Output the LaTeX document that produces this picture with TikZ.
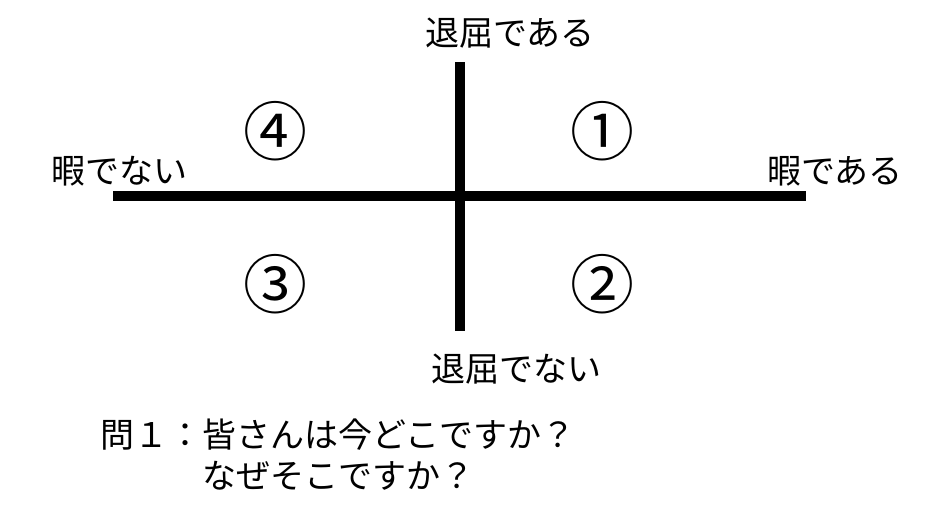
\documentclass[tikz,border=0pt]{standalone}
\usepackage{fontspec}
\setmainfont{Noto Sans CJK JP}
\usetikzlibrary{positioning}

\begin{document}
\begin{tikzpicture}[
  x=0.75pt, y=-0.75pt,
  axis/.style={line width=7.5pt, line cap=butt},
  label/.style={inner sep=0pt, anchor=base west, font=\fontsize{25.5pt}{30pt}\selectfont},
  quad/.style={inner sep=0pt, font=\fontsize{48pt}{56pt}\selectfont},
  question/.style={inner sep=0pt, anchor=north west, align=left, font=\fontsize{25.5pt}{30.5pt}\selectfont}
]
\useasboundingbox (0,0) rectangle (951,525);

% axes
\coordinate (left) at (113,196);
\coordinate (right) at (806,196);
\coordinate (top) at (460,62);
\coordinate (bottom) at (460,331);
\draw[axis] (left) -- (right);
\draw[axis] (top) -- (bottom);

% axis labels
\node[label] (bored) at (425,45) {退屈である};
\node[label] (notbored) at (431,381) {退屈でない};
\node[label] (notfree) at (51,183) {暇でない};
\node[label] (free) at (767,183) {暇である};

% quadrants
\node[quad] (q1) at (602,131) {①};
\node[quad] (q2) at (602,284) {②};
\node[quad] (q3) at (275,284) {③};
\node[quad] (q4) at (275,131) {④};

% question
\node[question] (ask) at (100,419) {問１：皆さんは今どこですか？\\\phantom{問１：}なぜそこですか？};

\end{tikzpicture}
\end{document}
